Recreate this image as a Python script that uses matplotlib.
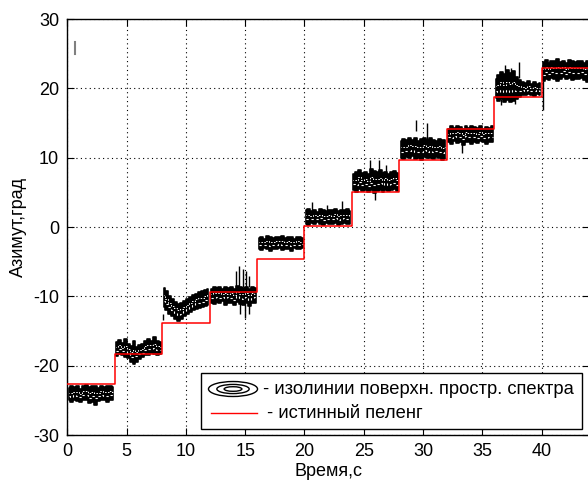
import numpy as np
import matplotlib
matplotlib.use('Agg')
import matplotlib.pyplot as plt
from matplotlib.patches import Rectangle, Ellipse

plt.rcParams['font.family'] = ['Liberation Sans', 'DejaVu Sans']
plt.rcParams['axes.unicode_minus'] = False

# начало каждого интервала (с) и истинный пеленг (град)
seg_starts = [0, 4, 8, 12, 16, 20, 24, 28, 32, 36, 40]
true_bearing = [-22.6, -18.3, -13.9, -9.4, -4.6, 0.2, 5.0, 9.7, 14.2, 18.7, 22.9]

# границы изолиний (верх/низ) через 0.25 с внутри каждого интервала
est_upper = [
    [-23.2, -23.0, -23.1, -22.9, -23.3, -23.0, -22.8, -23.1, -23.0, -22.9, -23.2, -23.0, -23.1, -22.9, -23.0, -23.1],
    [-16.6, -16.3, -16.8, -16.2, -16.9, -17.2, -16.4, -17.3, -17.0, -16.9, -16.5, -16.1, -16.4, -15.9, -16.5, -16.6],
    [-8.8, -9.3, -9.9, -10.4, -10.8, -11.1, -11.0, -10.7, -10.4, -10.1, -9.8, -9.6, -9.4, -9.3, -9.1, -9.0],
    [-8.9, -8.6, -8.8, -8.7, -9.0, -8.6, -8.8, -8.7, -8.9, -8.5, -8.7, -8.8, -8.6, -8.9, -8.7, -8.8],
    [-1.6, -1.4, -1.7, -1.3, -1.5, -1.6, -1.4, -1.5, -1.3, -1.6, -1.4, -1.5, -1.7, -1.4, -1.5, -1.6],
    [2.4, 2.6, 2.3, 2.5, 2.2, 2.6, 2.4, 2.3, 2.5, 2.4, 2.6, 2.3, 2.5, 2.4, 2.6, 2.3],
    [7.6, 7.9, 8.2, 7.8, 8.0, 7.7, 8.3, 8.1, 7.9, 8.2, 7.8, 8.0, 7.7, 7.9, 8.1, 7.8],
    [12.4, 12.7, 12.5, 12.9, 12.6, 12.8, 12.4, 12.7, 12.9, 12.5, 12.8, 12.6, 12.4, 12.7, 12.5, 12.6],
    [14.2, 14.5, 14.3, 14.6, 14.4, 14.2, 14.5, 14.3, 14.6, 14.4, 14.3, 14.5, 14.2, 14.4, 14.3, 14.5],
    [21.3, 21.9, 22.4, 22.0, 22.6, 22.2, 22.5, 21.7, 21.2, 20.9, 20.8, 21.0, 20.6, 20.9, 20.6, 20.8],
    [23.8, 24.1, 23.7, 24.0, 23.9, 24.2, 23.8, 24.0, 23.7, 24.1, 23.9, 23.8, 24.0, 23.9, 23.7, 24.0],
]
est_lower = [
    [-25.0, -25.3, -24.9, -25.1, -25.2, -24.9, -25.0, -25.4, -25.2, -25.6, -25.1, -24.9, -25.0, -25.2, -24.9, -25.0],
    [-18.6, -18.3, -18.5, -18.7, -18.9, -19.5, -19.8, -19.4, -19.0, -18.8, -18.4, -18.5, -18.2, -18.3, -18.4, -18.3],
    [-11.6, -12.0, -12.5, -12.9, -13.2, -13.5, -13.3, -12.9, -12.5, -12.2, -12.0, -11.8, -11.7, -11.6, -11.4, -11.3],
    [-10.9, -11.1, -10.8, -11.0, -10.7, -11.2, -10.9, -11.0, -11.3, -10.8, -11.1, -11.2, -10.9, -11.4, -11.0, -10.9],
    [-3.1, -3.3, -3.0, -3.2, -3.4, -3.1, -3.2, -3.0, -3.3, -3.1, -3.2, -3.4, -3.0, -3.2, -3.1, -3.0],
    [0.5, 0.3, 0.6, 0.4, 0.7, 0.5, 0.3, 0.6, 0.5, 0.4, 0.6, 0.3, 0.5, 0.6, 0.4, 0.5],
    [5.4, 5.1, 5.5, 5.2, 5.3, 5.0, 5.4, 4.9, 5.2, 5.3, 5.1, 5.4, 5.2, 5.3, 5.5, 5.2],
    [10.0, 9.8, 10.1, 9.9, 10.2, 9.8, 10.0, 9.7, 10.1, 9.9, 10.0, 9.8, 10.1, 9.9, 9.6, 9.9],
    [12.3, 12.0, 12.4, 12.1, 12.2, 11.9, 12.3, 12.2, 12.0, 12.3, 12.1, 12.4, 12.2, 12.0, 12.3, 12.2],
    [18.6, 18.2, 18.4, 18.0, 18.3, 18.1, 18.2, 18.5, 18.8, 19.1, 19.0, 19.2, 19.1, 18.9, 19.2, 19.0],
    [21.0, 21.4, 21.2, 21.5, 21.3, 21.1, 21.4, 21.6, 21.3, 21.5, 21.2, 21.4, 21.3, 21.5, 21.2, 20.9],
]

# отдельные выбросы: время, от, до
spike_t = [8.05, 14.2, 14.5, 14.8, 15.1, 15.3, 14.6, 15.0, 15.3, 20.6, 21.9, 23.15,
           25.5, 25.97, 26.25, 26.9, 29.4, 30.3, 33.3, 36.9, 37.4, 38.1, 36.6, 37.8, 40.1]
spike_lo = [-12.6, -8.7, -8.7, -8.7, -8.7, -8.7, -11.0, -11.0, -11.0, 2.4, 2.4, 2.4,
            7.9, 5.0, 7.9, 7.9, 13.8, 12.5, 12.1, 22.0, 22.0, 21.5, 18.4, 18.5, 21.0]
spike_hi = [-13.4, -6.3, -5.6, -6.0, -6.4, -7.0, -12.6, -13.1, -12.5, 3.6, 3.2, 3.8,
            9.7, 3.9, 9.7, 9.0, 15.5, 15.0, 10.7, 23.3, 23.0, 23.8, 17.6, 17.7, 16.9]

# короткая серая метка в левом верхнем углу
mark_t = [0.68, 0.68]
mark_y = [25.0, 26.7]

fig = plt.figure(figsize=(5.88, 4.86), dpi=100)
ax = fig.add_axes([0.1145, 0.1049, 0.8872, 0.856])

for i, t0 in enumerate(seg_starts):
    t = t0 + 0.125 + 0.25 * np.arange(len(est_upper[i]))
    up = np.array(est_upper[i])
    lo = np.array(est_lower[i])
    ax.fill_between(t, lo, up, step='mid', facecolor='k', edgecolor='k', lw=1.2, zorder=3)
    ax.plot(t, lo + 0.35 * (up - lo), color='w', lw=0.8, ls=(0, (2, 2.5)),
            drawstyle='steps-mid', zorder=4)
    ax.plot(t, lo + 0.62 * (up - lo), color='w', lw=0.7, ls=(1, (1.5, 1.5)),
            drawstyle='steps-mid', zorder=4)

ax.vlines(spike_t, spike_lo, spike_hi, color='k', lw=1.0, zorder=4)
ax.plot(mark_t, mark_y, color='#808080', lw=1.5)

edges = seg_starts + [44]
ax.step(edges, true_bearing + [true_bearing[-1]], where='post', color='r', lw=1.1, zorder=5)

ax.set_xlim(0, 44)
ax.set_ylim(-30, 30)
ax.set_xticks(range(0, 45, 5))
ax.set_yticks(range(-30, 31, 10))
ax.tick_params(direction='in', top=True, right=True, length=5, labelsize=13, pad=6)
ax.grid(True, color='k', ls=(0, (1, 3)), lw=0.8)
ax.set_axisbelow(True)
for s in ax.spines.values():
    s.set_linewidth(1.0)
ax.set_xlabel('Время,с', fontsize=13, labelpad=2)
ax.set_ylabel('Азимут,град', fontsize=13, labelpad=4)

# легенда вручную
ax.add_patch(Rectangle((0.2563, 0.0144), 0.7297, 0.1354, transform=ax.transAxes,
                       facecolor='w', edgecolor='k', lw=1.0, zorder=6))
for w, h in ((0.094, 0.036), (0.062, 0.022), (0.034, 0.011)):
    ax.add_patch(Ellipse((0.3176, 0.1106), w, h, transform=ax.transAxes,
                         facecolor='none', edgecolor='k', lw=1.0, zorder=7))
ax.text(0.3746, 0.1106, '- изолинии поверхн. простр. спектра', transform=ax.transAxes,
        fontsize=13.2, va='center', ha='left', zorder=7)
ax.plot([0.275, 0.3634], [0.0529, 0.0529], transform=ax.transAxes, color='r', lw=1.0, zorder=7)
ax.text(0.383, 0.0529, '- истинный пеленг', transform=ax.transAxes,
        fontsize=13.2, va='center', ha='left', zorder=7)

fig.savefig('out.png', dpi=100)
